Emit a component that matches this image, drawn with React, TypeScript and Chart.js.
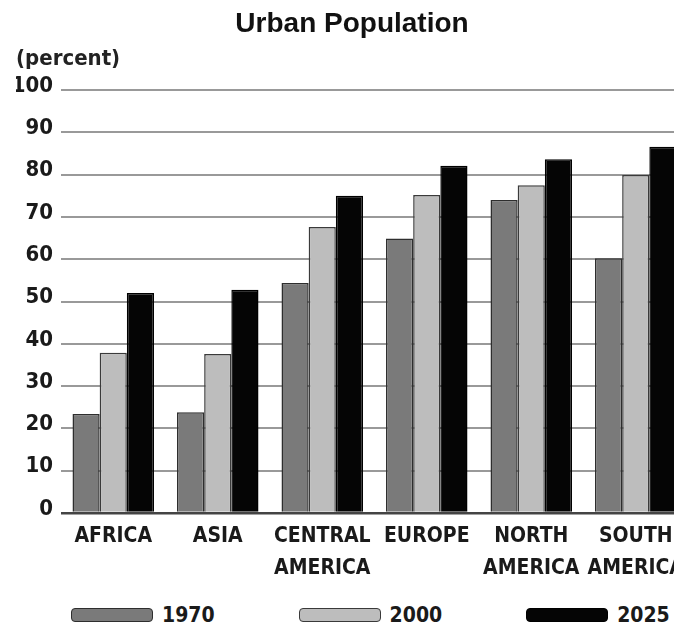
import { useEffect, useRef } from 'react';
import { Chart, registerables } from 'chart.js';

Chart.register(...registerables);

const categories = [['AFRICA'], ['ASIA'], ['CENTRAL', 'AMERICA'], ['EUROPE'], ['NORTH', 'AMERICA'], ['SOUTH', 'AMERICA']];
const years = ['1970', '2000', '2025'];
const pct1970 = [23.4, 23.8, 54.4, 64.9, 74.0, 60.2];
const pct2000 = [37.9, 37.6, 67.6, 75.2, 77.5, 79.9];
const pct2025 = [52.0, 52.8, 75.0, 82.1, 83.6, 86.6];

const fills = ['#7a7a7a', '#bdbdbd', '#050505'];
const edges = ['#2e2e2e', '#3a3a3a', '#000000'];

const CONDENSED = '"DejaVu Sans Condensed", "Liberation Sans Narrow", "DejaVu Sans", sans-serif';

export default function App() {
  const canvasRef = useRef<HTMLCanvasElement>(null);
  const chartRef = useRef<Chart<'bar'> | null>(null);

  useEffect(() => {
    if (!canvasRef.current) return;
    const series = [pct1970, pct2000, pct2025];

    chartRef.current = new Chart(canvasRef.current, {
      type: 'bar',
      data: {
        labels: categories,
        datasets: series.map((values, i) => ({
          label: years[i],
          data: values,
          backgroundColor: fills[i],
          borderColor: edges[i],
          borderWidth: 1.5,
          categoryPercentage: 0.78,
          barPercentage: 1,
        })),
      },
      options: {
        responsive: true,
        maintainAspectRatio: false,
        animation: false,
        layout: { padding: { left: 16, right: 12, top: 0, bottom: 8 } },
        plugins: {
          legend: { display: false },
          tooltip: { enabled: false },
          title: {
            display: true,
            text: 'Urban Population',
            color: '#111',
            font: { family: '"Liberation Sans", Arial, sans-serif', size: 28, weight: 'bold', lineHeight: 1.2 },
            padding: { top: 7, bottom: 5 },
          },
          subtitle: {
            display: true,
            text: '(percent)',
            align: 'start',
            color: '#222',
            font: { family: CONDENSED, size: 22, weight: 'bold', lineHeight: 1.2 },
            padding: { top: 0, bottom: 18 },
          },
        },
        scales: {
          x: {
            grid: { display: false, drawTicks: false },
            border: { display: false },
            ticks: {
              color: '#1a1a1a',
              font: { family: CONDENSED, size: 21, weight: 'bold', lineHeight: 1.5 },
              padding: 8,
              maxRotation: 0,
              autoSkip: false,
            },
          },
          y: {
            min: 0,
            max: 100,
            afterFit: (scale) => { scale.width = 45; },
            border: { display: false },
            grid: {
              drawTicks: false,
              color: (c) => (c.tick.value === 0 ? '#444' : '#999'),
              lineWidth: (c) => (c.tick.value === 0 ? 2.5 : 2),
            },
            ticks: {
              stepSize: 10,
              padding: 8,
              labelOffset: -4,
              color: '#1a1a1a',
              font: { family: CONDENSED, size: 22, weight: 'bold' },
            },
          },
        },
      },
    });

    return () => {
      chartRef.current?.destroy();
      chartRef.current = null;
    };
  }, []);

  return (
    <div style={{ position: 'absolute', left: 0, top: 0, width: 674, height: 628, overflow: 'hidden', background: '#fff' }}>
      <div style={{ position: 'relative', width: 700, height: 600 }}>
        <canvas ref={canvasRef} />
      </div>
      <div
        style={{
          position: 'absolute', top: 601, left: 71, height: 28, display: 'flex', alignItems: 'center', gap: 84,
          whiteSpace: 'nowrap', fontFamily: CONDENSED, fontWeight: 'bold', fontSize: 21, color: '#1a1a1a',
        }}
      >
        {years.map((y, i) => (
          <div key={y} style={{ display: 'flex', alignItems: 'center' }}>
            <span style={{ display: 'inline-block', width: 80, height: 12, background: fills[i], border: `1.5px solid ${edges[i]}`, borderRadius: 4 }} />
            <span style={{ marginLeft: 9 }}>{y}</span>
          </div>
        ))}
      </div>
    </div>
  );
}
